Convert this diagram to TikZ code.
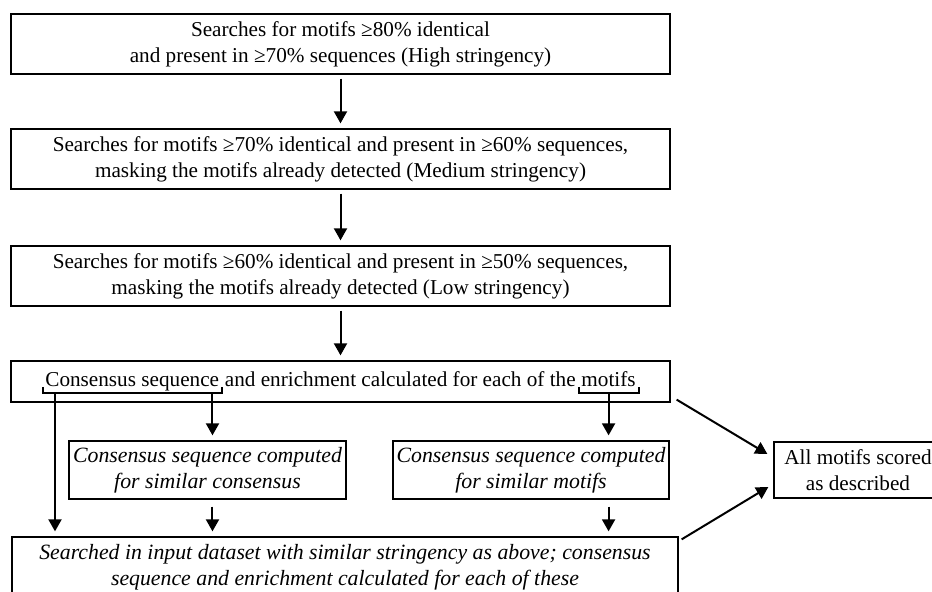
\documentclass[tikz,border=0pt]{standalone}
\usepackage{fontspec}
\setmainfont{Liberation Serif}
\usetikzlibrary{arrows.meta,calc}

\tikzset{
  stepbox/.style={draw, line width=0.65pt, inner sep=0pt, align=center,
    font=\fontsize{10.6}{13}\selectfont},
  itbox/.style={stepbox, font=\fontsize{10.9}{13}\selectfont\itshape},
  word/.style={inner sep=0pt, anchor=base west, font=\fontsize{10.6}{13}\selectfont},
  flow/.style={line width=1pt, -{Triangle[length=6pt,width=6.5pt]},
    shorten <=2pt, shorten >=2.5pt},
  bracket/.style={line width=1pt}
}

\begin{document}
\begin{tikzpicture}[x=0.5pt,y=0.5pt,yscale=-1,xscale=1]
\useasboundingbox (0,0) rectangle (932,592);
\clip (0,0) rectangle (932,592);

%Stringency steps
\node[stepbox, minimum width=329.5pt, minimum height=30pt] (high) at (340.5,44)
  {Searches for motifs ≥80\% identical\\and present in ≥70\% sequences (High stringency)};
\node[stepbox, minimum width=329.5pt, minimum height=30pt] (medium) at (340.5,159)
  {Searches for motifs ≥70\% identical and present in ≥60\% sequences,\\masking the motifs already detected (Medium stringency)};
\node[stepbox, minimum width=329.5pt, minimum height=30pt] (low) at (340.5,276)
  {Searches for motifs ≥60\% identical and present in ≥50\% sequences,\\masking the motifs already detected (Low stringency)};

%Consensus box, text split so the brackets can sit under it
\node[stepbox, minimum width=329.5pt, minimum height=20.5pt] (cons) at (340.5,381.5) {};
\node[word] (csq) at (45,387) {Consensus sequence};
\node[word] (enr) at ($(csq.base east)+(5,0)$) {and enrichment calculated for each of the};
\node[word] (mot) at ($(enr.base east)+(5,0)$) {motifs};

%Similar searches
\node[itbox, minimum width=138.5pt, minimum height=29pt] (simcons) at (207.5,470)
  {Consensus sequence computed\\for similar consensus};
\node[itbox, minimum width=138pt, minimum height=29pt] (simmot) at (531,470)
  {Consensus sequence computed\\for similar motifs};
\node[itbox, minimum width=333pt, minimum height=30pt] (input) at (345,567)
  {Searched in input dataset with similar stringency as above; consensus\\sequence and enrichment calculated for each of these};
\node[stepbox, minimum width=84pt, minimum height=28pt] (scored) at (858,470)
  {All motifs scored\\as described};

%Brackets
\draw[bracket] ($(csq.base west)+(-2,0)$) -- ($(csq.base west)+(-2,6)$)
  -- ($(csq.base east)+(3,6)$) -- ($(csq.base east)+(3,0)$);
\draw[bracket] ($(mot.base west)+(-2,0)$) -- ($(mot.base west)+(-2,6)$)
  -- ($(mot.base east)+(3,6)$) -- ($(mot.base east)+(3,0)$);
\coordinate (bl) at ($(csq.base west)+(10,6)$);
\coordinate (br) at ($(csq.base east)+(-7,6)$);
\coordinate (bm) at ($(mot.base)+(0,6)$);

%Arrows
\draw[flow] (high) -- (medium);
\draw[flow] (medium) -- (low);
\draw[flow] (low) -- (cons);
\draw[flow, shorten <=0pt] (bl) -- (bl |- input.north);
\draw[flow, shorten <=0pt] (br) -- (br |- simcons.north);
\draw[flow, shorten <=0pt] (bm) -- (bm |- simmot.north);
\draw[flow, shorten <=3.5pt] (br |- simcons.south) -- (br |- input.north);
\draw[flow, shorten <=3.5pt] (bm |- simmot.south) -- (bm |- input.north);
\draw[flow, shorten <=0pt, shorten >=0pt] ($(cons.south east)+(6,-3)$) -- ($(scored.west)+(-6,-16)$);
\draw[flow, shorten <=0pt, shorten >=0pt] ($(input.north east)+(3,3)$) -- ($(scored.west)+(-5,17)$);
\end{tikzpicture}
\end{document}
